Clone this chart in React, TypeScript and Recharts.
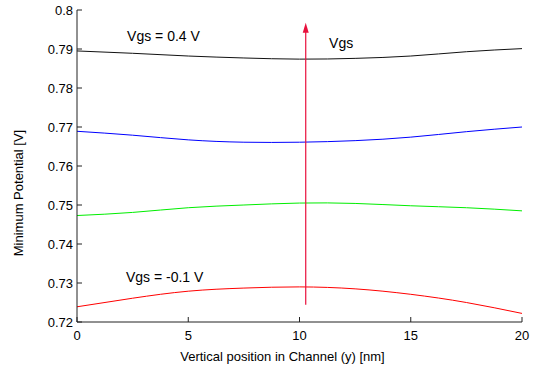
import { LineChart, Line, XAxis, YAxis, ReferenceLine, ReferenceDot } from "recharts";

// position along the channel, nm
const positions = [0, 2.5, 5, 7.5, 10, 12.5, 15, 17.5, 20];

// minimum potential [V] for each gate voltage
const vgs04 = [0.7895, 0.7889, 0.7882, 0.7877, 0.7874, 0.7876, 0.7882, 0.7893, 0.7901];
const vgs03 = [0.7689, 0.7679, 0.7667, 0.7661, 0.7661, 0.7665, 0.7674, 0.7688, 0.77];
const vgs01 = [0.7473, 0.7481, 0.7493, 0.75, 0.7505, 0.7504, 0.7498, 0.7493, 0.7485];
const vgsm01 = [0.7239, 0.7261, 0.7279, 0.7287, 0.729, 0.7285, 0.7271, 0.725, 0.7222];

const xTicks = [0, 5, 10, 15, 20];
const yTicks = [0.72, 0.73, 0.74, 0.75, 0.76, 0.77, 0.78, 0.79, 0.8];

const data = positions.map((x, i) => ({
  x,
  a: vgs04[i],
  b: vgs03[i],
  c: vgs01[i],
  d: vgsm01[i],
}));

const FONT = "'Liberation Sans', Arial, sans-serif";
const AXIS = "#222";
const ARROW = "#e8103c";
const TICK = 5;

const BottomTick = ({ x, y, payload }: any) => (
  <g>
    <line x1={x} x2={x} y1={y} y2={y - TICK} stroke={AXIS} />
    <text x={x} y={y + 18} textAnchor="middle" fontSize={13} fontFamily={FONT} fill="#000">
      {payload.value}
    </text>
  </g>
);

const LeftTick = ({ x, y, payload }: any) => (
  <g>
    <line x1={x} x2={x + TICK} y1={y} y2={y} stroke={AXIS} />
    <text x={x - 4} y={y} dy="0.36em" textAnchor="end" fontSize={13} fontFamily={FONT} fill="#000">
      {payload.value}
    </text>
  </g>
);

const TopTick = ({ x, y }: any) => <line x1={x} x2={x} y1={y} y2={y + TICK} stroke={AXIS} />;
const RightTick = ({ x, y }: any) => <line x1={x} x2={x - TICK} y1={y} y2={y} stroke={AXIS} />;

const note = (text: string) => (p: any) => (
  <text x={p.cx} y={p.cy} fontSize={14} fontFamily={FONT} fill="#000">
    {text}
  </text>
);

const Arrow = (p: any) => {
  const x = p.x1;
  const bottom = Math.max(p.y1, p.y2);
  const tip = Math.min(p.y1, p.y2);
  return (
    <g>
      <line x1={x} x2={x} y1={bottom} y2={tip + 6} stroke={ARROW} strokeWidth={1.2} />
      <polygon points={`${x},${tip} ${x - 3},${tip + 10} ${x + 3},${tip + 10}`} fill={ARROW} />
    </g>
  );
};

const XLabel = ({ viewBox }: any) => (
  <text
    x={viewBox.x + viewBox.width / 2 - 17}
    y={viewBox.y + 39}
    textAnchor="middle"
    fontSize={13}
    fontFamily={FONT}
    fill="#000"
  >
    Vertical position in Channel (y)  [nm]
  </text>
);

const YLabel = ({ viewBox }: any) => {
  const cx = 18;
  const cy = viewBox.y + viewBox.height / 2 + 27;
  return (
    <text
      x={cx}
      y={cy}
      transform={`rotate(-90 ${cx} ${cy})`}
      textAnchor="middle"
      dy="0.36em"
      fontSize={13}
      fontFamily={FONT}
      fill="#000"
    >
      Minimum Potential [V]
    </text>
  );
};

export default function App() {
  return (
    <div style={{ position: "absolute", left: 0, top: 0, background: "#fff" }}>
      <LineChart width={536} height={369} data={data} margin={{ top: 10, right: 14, bottom: 0, left: 0 }}>
        <XAxis
          xAxisId="b"
          dataKey="x"
          type="number"
          domain={[0, 20]}
          ticks={xTicks}
          height={47}
          tickSize={0}
          tickMargin={0}
          tickLine={false}
          axisLine={{ stroke: AXIS }}
          tick={<BottomTick />}
          label={<XLabel />}
        />
        <XAxis
          xAxisId="t"
          orientation="top"
          dataKey="x"
          type="number"
          domain={[0, 20]}
          ticks={xTicks}
          height={0}
          tickSize={0}
          tickMargin={0}
          tickLine={false}
          axisLine={{ stroke: AXIS }}
          tick={<TopTick />}
        />
        <YAxis
          yAxisId="l"
          type="number"
          domain={[0.72, 0.8]}
          ticks={yTicks}
          allowDataOverflow
          width={77}
          tickSize={0}
          tickMargin={0}
          tickLine={false}
          axisLine={{ stroke: AXIS }}
          tick={<LeftTick />}
          label={<YLabel />}
        />
        <YAxis
          yAxisId="r"
          orientation="right"
          type="number"
          domain={[0.72, 0.8]}
          ticks={yTicks}
          allowDataOverflow
          width={0}
          tickSize={0}
          tickMargin={0}
          tickLine={false}
          axisLine={{ stroke: AXIS }}
          tick={<RightTick />}
        />
        <Line xAxisId="b" yAxisId="l" type="natural" dataKey="a" stroke="#111" strokeWidth={1} dot={false} isAnimationActive={false} />
        <Line xAxisId="b" yAxisId="l" type="natural" dataKey="b" stroke="#0000ff" strokeWidth={1} dot={false} isAnimationActive={false} />
        <Line xAxisId="b" yAxisId="l" type="natural" dataKey="c" stroke="#00ee00" strokeWidth={1} dot={false} isAnimationActive={false} />
        <Line xAxisId="b" yAxisId="l" type="natural" dataKey="d" stroke="#ff0000" strokeWidth={1} dot={false} isAnimationActive={false} />
        <ReferenceLine
          xAxisId="b"
          yAxisId="l"
          segment={[
            { x: 10.28, y: 0.7244 },
            { x: 10.28, y: 0.7967 },
          ]}
          shape={<Arrow />}
        />
        <ReferenceDot xAxisId="b" yAxisId="l" x={2.25} y={0.79205} r={0} shape={note("Vgs = 0.4 V")} />
        <ReferenceDot xAxisId="b" yAxisId="l" x={11.33} y={0.79026} r={0} shape={note("Vgs")} />
        <ReferenceDot xAxisId="b" yAxisId="l" x={2.2} y={0.7303} r={0} shape={note("Vgs = -0.1 V")} />
      </LineChart>
    </div>
  );
}
